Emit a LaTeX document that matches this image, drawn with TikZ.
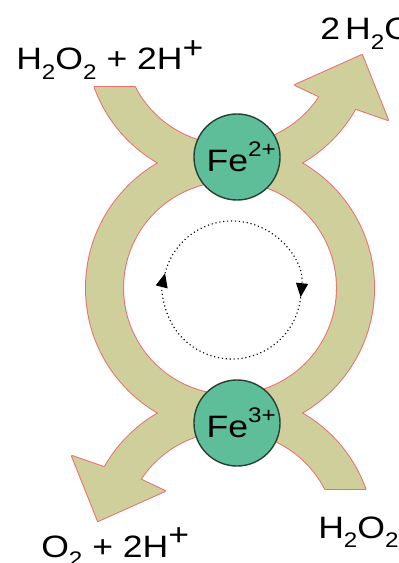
\documentclass[tikz,border=0pt]{standalone}
\usepackage{fontspec}
\setmainfont{Liberation Sans}[FakeStretch=1.15]
\usepackage{tikz}
\usetikzlibrary{arrows.meta,calc}

\definecolor{bandfill}{RGB}{207,207,155}
\definecolor{bandline}{RGB}{235,110,110}
\definecolor{ironfill}{RGB}{94,190,153}
\definecolor{ironline}{RGB}{38,66,52}

% Lowered and raised parts of the formulas.
\newcommand{\lo}[1]{\raisebox{-7pt}{\fontsize{15}{15}\selectfont #1}}
\newcommand{\hi}[1]{\raisebox{8.5pt}{#1}}
\newcommand{\charge}[1]{\raisebox{10.5pt}{\fontsize{15}{15}\selectfont #1}}

\begin{document}
\begin{tikzpicture}[x=0.025cm, y=-0.025cm, line join=round,
    font=\fontsize{22}{26}\selectfont,
    bandedge/.style={draw=bandline, line width=1.4pt},
    bandbody/.style={fill=bandfill},
    iron/.style={circle, draw=ironline, line width=1pt, fill=ironfill,
      minimum size=2.15cm, inner sep=0pt},
    species/.style={anchor=base west, inner sep=0pt},
    cycle arrow/.style={dotted, line width=.8pt, -{Triangle[length=.35cm, width=.3cm]}}]
  \clip (0,0) rectangle (399,563);
  \fill[white] (0,0) rectangle (399,563);

  % Ring and the two bent arrows: edge pass first, then body pass over it.
  \foreach \pass in {bandedge,bandbody}{
    \path[\pass, even odd rule] (230,288) circle[radius=144] (230,288) circle[radius=107];
    \foreach \turn in {0,180}
      \path[\pass, rotate around={\turn:(230,288)}]
        (94.6,87) arc[start angle=160.1, end angle=29.4, radius=144]
        -- (388,120) -- (362,55) -- (295,85) -- (319.5,96.6)
        arc[start angle=33.2, end angle=152.7, radius=107] -- cycle;
  }

  % Iron centres.
  \node[iron] (fe2) at (237,157) {\hspace{6pt}Fe\charge{2+}};
  \node[iron] (fe3) at (237,423) {\hspace{6pt}Fe\charge{3+}};

  % Redox cycle.
  \coordinate (turn) at (232,290);
  \draw[cycle arrow] ($(turn)+(194:69)$) arc[start angle=194, end angle=366, radius=69];
  \draw[cycle arrow] ($(turn)+(6:69)$) arc[start angle=6, end angle=194, radius=69];

  % Species in and out.
  \node[species] (peroxin) at (16,70) {H\lo{2}O\lo{2} + 2H\hi{+}};
  \node[species] (water) at (320,40) {2\,H\lo{2}O};
  \node[species] (oxyout) at (41,557) {O\lo{2} + 2H\hi{+}};
  \node[species] (peroxb) at (318,538) {H\lo{2}O\lo{2}};
\end{tikzpicture}
\end{document}
